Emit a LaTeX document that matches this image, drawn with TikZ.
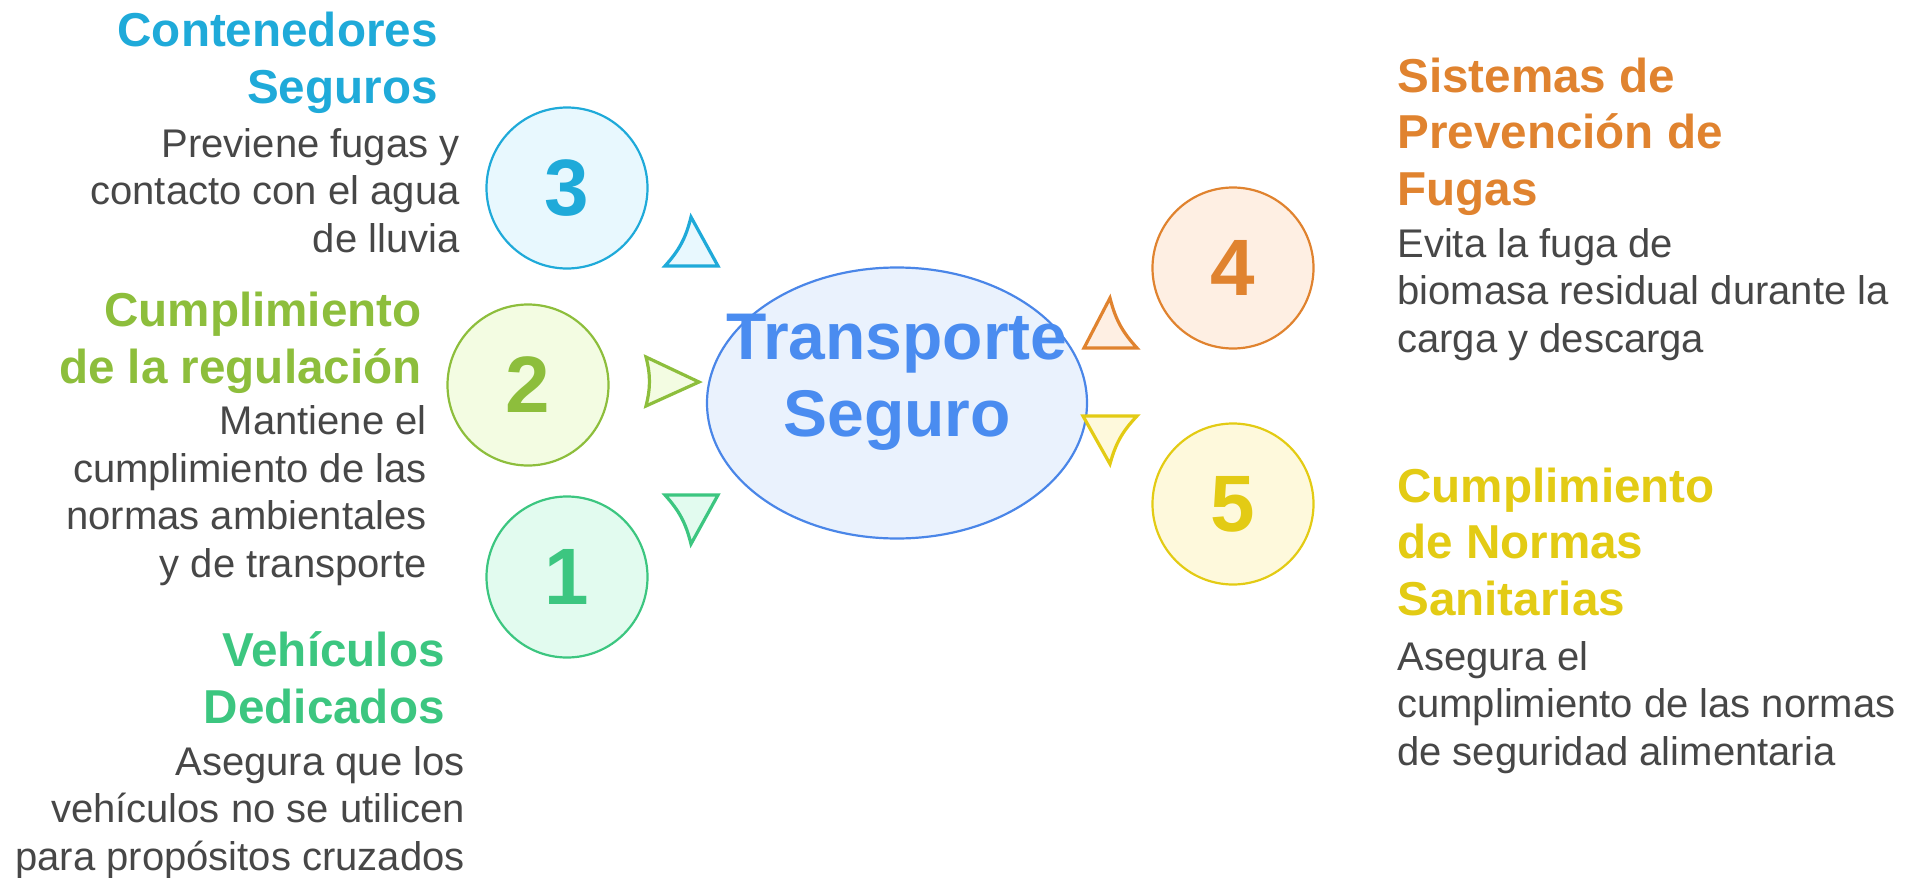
\documentclass[tikz,border=0pt]{standalone}
\usepackage{fontspec}
\setmainfont{Liberation Sans}
\usepackage{xcolor}
\definecolor{celeste}{RGB}{31,170,217}
\definecolor{celesteClaro}{RGB}{232,248,254}
\definecolor{verdeLima}{RGB}{141,190,60}
\definecolor{verdeLimaClaro}{RGB}{243,252,226}
\definecolor{verdeMenta}{RGB}{60,198,128}
\definecolor{verdeMentaClaro}{RGB}{226,251,239}
\definecolor{naranja}{RGB}{224,131,47}
\definecolor{naranjaClaro}{RGB}{254,239,227}
\definecolor{amarillo}{RGB}{227,203,20}
\definecolor{amarilloClaro}{RGB}{254,249,220}
\definecolor{azulCentro}{RGB}{74,140,240}
\definecolor{azulBorde}{RGB}{74,134,232}
\definecolor{azulClaro}{RGB}{234,242,253}
\definecolor{grisTexto}{RGB}{71,71,71}
\usepackage{tikz}
\usetikzlibrary{shapes.geometric, positioning}

\begin{document}
\begin{tikzpicture}[x=0.5pt, y=-0.5pt,
		% círculo numerado
		numCircle/.style={
			circle,
			minimum size=80.5pt,
			inner sep=0pt,
			line width=1.1pt,
			font=\bfseries\fontsize{40}{40}\selectfont
		},
		% títulos y descripciones (anclados en la última línea)
		titleText/.style={
			inner sep=0pt,
			font=\bfseries\fontsize{23.8}{28.25}\selectfont
		},
		descText/.style={
			inner sep=0pt,
			text=grisTexto,
			font=\fontsize{20}{23.75}\selectfont
		},
		titleLeft/.style={titleText, align=right, anchor=base east},
		descLeft/.style={descText, align=right, anchor=base east},
		titleRight/.style={titleText, align=left, anchor=base west},
		descRight/.style={descText, align=left, anchor=base west},
		% triángulos que apuntan al centro
		flecha/.style={line width=1.6pt}
		]
		
		\useasboundingbox (0,0) rectangle (1908,878);
		
		% elipse central
		\node[ellipse, draw=azulBorde, fill=azulClaro, line width=1.1pt,
		minimum width=190pt, minimum height=135.5pt] (centro) at (897,403) {};
		\node[inner sep=0pt, align=center, text=azulCentro, anchor=base,
		font=\bfseries\fontsize{33}{38.5}\selectfont] (centroTxt) at (897,436) {Transporte\\Seguro};
		
		% círculos numerados
		\node[numCircle, draw=celeste, fill=celesteClaro, text=celeste] (c3) at (567,188) {3};
		\node[numCircle, draw=verdeLima, fill=verdeLimaClaro, text=verdeLima] (c2) at (528,385) {2};
		\node[numCircle, draw=verdeMenta, fill=verdeMentaClaro, text=verdeMenta] (c1) at (567,577) {1};
		\node[numCircle, draw=naranja, fill=naranjaClaro, text=naranja] (c4) at (1233,268) {4};
		\node[numCircle, draw=amarillo, fill=amarilloClaro, text=amarillo] (c5) at (1233,504) {5};
		
		% triángulos
		\draw[flecha, draw=celeste, fill=celesteClaro] (691,217) to[bend left=14] (665,266) -- (718,266) -- cycle;
		\draw[flecha, draw=verdeLima, fill=verdeLimaClaro] (646,357) to[bend left=14] (646,406) -- (699,382) -- cycle;
		\draw[flecha, draw=verdeMenta, fill=verdeMentaClaro] (665,495) to[bend left=14] (691,544) -- (718,495) -- cycle;
		\draw[flecha, draw=naranja, fill=naranjaClaro] (1110,298) to[bend right=14] (1137,348) -- (1084,348) -- cycle;
		\draw[flecha, draw=amarillo, fill=amarilloClaro] (1137,416) to[bend right=14] (1110,464) -- (1083,416) -- cycle;
		
		% textos de la izquierda
		\node[titleLeft, text=celeste] (t3) at (438,103) {Contenedores\\Seguros};
		\node[descLeft] (d3) at (460,252) {Previene fugas y\\contacto con el agua\\de lluvia};
		
		\node[titleLeft, text=verdeLima] (t2) at (422,383) {Cumplimiento\\de la regulación};
		\node[descLeft] (d2) at (427,577) {Mantiene el\\cumplimiento de las\\normas ambientales\\y de transporte};
		
		\node[titleLeft, text=verdeMenta] (t1) at (445,723) {Vehículos\\Dedicados};
		\node[descLeft] (d1) at (465,870) {Asegura que los\\vehículos no se utilicen\\para propósitos cruzados};
		
		% textos de la derecha
		\node[titleRight, text=naranja] (t4) at (1397,205) {Sistemas de\\Prevención de\\Fugas};
		\node[descRight] (d4) at (1397,352) {Evita la fuga de\\biomasa residual durante la\\carga y descarga};
		
		\node[titleRight, text=amarillo] (t5) at (1397,615) {Cumplimiento\\de Normas\\Sanitarias};
		\node[descRight] (d5) at (1397,765) {Asegura el\\cumplimiento de las normas\\de seguridad alimentaria};
		
	\end{tikzpicture}
\end{document}
